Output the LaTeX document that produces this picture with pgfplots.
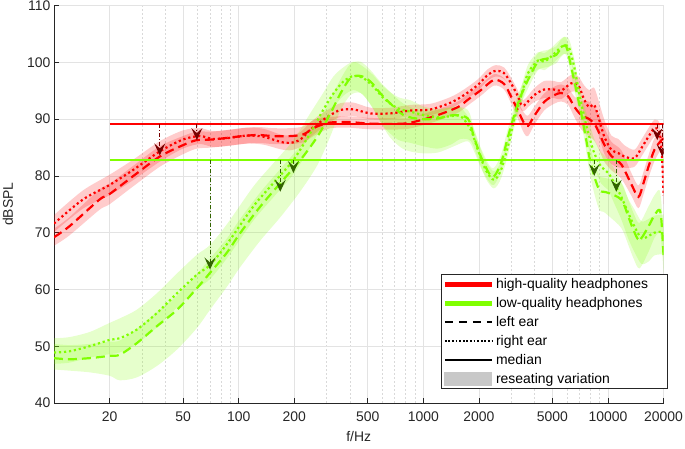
\documentclass[border=0pt]{standalone}
\usepackage{fontspec}
\setmainfont{Liberation Sans}
\usepackage{pgfplots}
\pgfplotsset{compat=1.18}
\usepackage{pgfplotstable}
\usepgfplotslibrary{fillbetween}
\usetikzlibrary{arrows.meta}
\definecolor{hq}{RGB}{255,0,0}
\definecolor{lq}{RGB}{128,255,0}
\definecolor{darkr}{RGB}{120,0,0}
\definecolor{darkg}{RGB}{50,100,0}
\definecolor{axc}{RGB}{38,38,38}
\definecolor{lgray}{RGB}{200,200,200}

\pgfplotstableread{
f y a b
10 69.2 1.5 1.5
12.1 71.1 1.6 1.6
17.6 75.8 1.8 1.8
20 76.8 1.8 1.8
26.7 79.9 1.8 1.8
37.4 83.4 1.8 1.8
49.9 85.4 1.6 1.6
59.4 86.3 1.5 1.5
72.6 86.4 1.4 1.4
98 86.9 1.4 1.4
126 87.2 1.4 1.4
154 87.0 1.4 1.4
190 87.0 1.4 1.4
224 87.3 1.4 1.4
254 88.4 1.4 1.4
287 89.1 1.2 1.2
314 89.4 1.0 1.0
388 89.5 1.0 1.0
518 89.2 1.0 1.0
782 89.2 1.0 1.0
968 89.8 1.0 1.0
1197 90.7 1.0 1.0
1538 92.1 1.0 1.0
1743 93.4 1.0 1.0
2050 95.1 1.0 1.0
2413 96.9 1.0 1.0
2736 96.2 1.0 1.0
2986 94.0 1.2 1.2
3258 91.5 1.5 1.5
3512 89.3 1.8 1.8
3693 88.8 1.8 1.8
3980 90.5 1.6 1.6
4511 93.0 1.5 1.5
5112 94.2 1.5 1.5
5581 94.6 1.5 1.5
6093 94.0 1.5 1.5
6566 92.2 1.8 1.8
7168 90.7 2.5 2.5
7826 90.1 3.0 3.0
8434 89.2 3.0 3.0
8981 87.5 3.0 3.0
9558 85.5 3.0 3.0
10434 83.5 2.5 2.5
11823 82.0 2.5 2.5
13400 78.5 2.0 2.0
14628 76.3 2.0 2.0
15572 78.7 2.0 2.0
16578 81.6 2.0 2.0
17868 84.6 2.0 2.0
19505 86.3 1.5 1.5
20000 86.6 1.5 1.5
}\redL

\pgfplotstableread{
f y a b
10 71.6 1.5 1.5
14.3 75.8 1.6 1.6
20 78.4 1.8 1.8
26.7 81.0 1.8 1.8
37.4 84.3 1.8 1.8
49.9 86.4 1.6 1.6
61.7 87.0 1.4 1.4
72.6 86.5 1.4 1.4
89.8 86.7 1.4 1.4
111 87.1 1.4 1.4
136 86.9 1.4 1.4
168 86.0 1.3 1.3
190 85.8 1.3 1.3
216 86.4 1.3 1.3
244 88.1 1.3 1.3
277 89.5 1.3 1.3
314 90.7 1.2 1.2
356 91.6 1.2 1.2
419 91.7 1.2 1.2
518 91.0 1.0 1.0
665 91.0 1.0 1.0
854 91.5 1.0 1.0
1097 91.7 1.0 1.0
1409 92.9 1.0 1.0
1658 94.2 1.0 1.0
1975 96.0 1.0 1.0
2238 97.8 1.0 1.0
2474 98.5 1.0 1.0
2736 98.1 1.0 1.0
2986 96.3 1.0 1.0
3258 94.0 1.0 1.0
3383 92.6 1.0 1.0
3512 92.4 1.0 1.0
3693 93.1 1.0 1.0
3980 94.2 1.2 1.2
4511 95.2 1.5 1.5
5112 95.2 1.5 1.5
5581 95.0 1.5 1.5
6325 96.3 1.5 1.5
6903 96.0 1.5 1.5
7443 93.4 2.5 2.5
7923 92.1 3.0 3.0
8434 92.5 3.0 3.0
8981 89.8 3.0 3.0
9558 86.9 3.0 3.0
10434 84.6 2.5 2.5
11390 84.0 2.5 2.5
12275 83.4 2.0 2.0
13915 83.1 1.5 1.5
15188 84.9 1.5 1.5
16578 86.9 1.5 1.5
17868 88.4 1.5 1.5
19024 87.8 1.5 1.5
19505 84.5 1.5 1.5
19800 81.0 1.5 1.5
20000 76.5 1.5 1.5
}\redR

\pgfplotstableread{
f y a b
10 47.9 2.0 2.5
12.1 47.7 2.0 2.5
15.6 47.9 2.5 2.5
20 48.3 3.5 2.5
22.7 48.5 4.5 2.5
28 50.5 6.0 2.5
36 53.5 7.0 2.5
46.3 56.4 7.0 2.5
59.4 60.2 7.0 2.5
69.9 62.9 6.5 2.5
86.5 66.5 6.0 2.5
101.8 69.9 6.0 2.5
131 74.6 6.0 2.5
168 78.7 6.0 2.5
216 82.8 5.5 2.5
267 86.9 5.0 2.5
314 91.0 4.0 2.5
356 94.5 3.0 2.5
403 97.2 3.0 2.5
457 97.6 3.0 2.5
518 96.6 4.0 2.0
587 94.5 5.0 2.0
660 92.8 6.0 2.0
782 90.7 6.0 2.0
968 90.0 6.0 1.5
1197 90.1 6.0 1.5
1462 90.7 5.5 1.5
1743 90.1 4.0 1.5
1879 86.9 2.5 1.5
2050 83.4 2.0 1.5
2266 80.5 1.5 1.5
2413 79.9 1.5 1.5
2634 82.2 1.5 1.5
2876 86.9 1.5 1.5
3258 92.8 1.5 1.5
3693 96.9 1.5 1.5
4185 100.1 1.5 1.5
4743 100.7 1.5 1.5
5242 101.3 1.5 1.5
5581 102.5 1.5 1.5
5942 102.8 1.5 1.5
6325 99.2 1.5 1.5
6733 95.1 1.5 1.5
7168 91.0 1.5 1.5
7632 86.3 2.0 2.0
7923 83.4 2.5 2.5
8434 79.9 3.0 2.5
8981 77.5 3.5 2.5
9439 77.2 3.5 2.5
10050 77.0 4.0 2.5
11823 75.8 5.0 3.0
12905 72.8 5.0 3.0
13741 70.5 5.0 3.0
14813 68.7 5.0 3.0
16578 71.1 4.5 3.5
17868 73.1 4.0 3.5
19024 74.0 4.0 3.5
19505 72.0 4.0 3.0
20000 66.0 3.0 3.0
}\greenL

\pgfplotstableread{
f y a b
10 48.9 2.0 2.5
12.1 49.1 2.0 2.5
15.6 50.0 2.0 2.5
20 51.1 2.5 3.0
22.7 51.4 2.5 3.5
28 52.9 2.5 3.5
36 55.8 2.5 3.5
46.3 59.3 2.5 3.5
59.4 62.6 2.5 3.5
69.9 64.3 2.5 3.5
86.5 68.0 2.5 3.5
120 74.6 2.5 3.5
154 78.7 2.5 3.5
198 82.8 2.5 3.5
244 87.5 2.5 3.5
287 91.6 2.5 3.0
326 94.5 2.5 3.0
369 96.6 2.5 2.5
419 97.6 2.5 2.5
474 97.2 3.0 2.0
537 95.7 4.0 2.0
609 93.7 5.0 2.0
726 91.9 5.5 2.0
854 91.3 5.5 2.0
1005 90.7 5.5 1.5
1197 90.3 5.5 1.5
1409 90.5 5.0 1.5
1597 90.5 4.0 1.5
1810 88.1 2.0 1.5
1975 84.6 1.5 1.5
2182 81.0 1.5 1.5
2413 79.3 1.5 1.5
2634 81.0 1.5 1.5
2876 85.2 1.5 1.5
3100 89.8 1.5 1.5
3383 94.0 1.5 1.5
3693 98.1 1.5 1.5
4185 100.3 1.5 1.5
4511 100.1 1.5 1.5
4924 101.0 1.5 1.5
5377 102.2 1.5 1.5
5794 103.0 1.5 1.5
6169 102.5 1.5 1.5
6566 99.2 1.5 1.5
6991 94.5 1.5 1.5
7443 90.4 2.0 2.0
7923 86.9 2.5 2.5
8434 84.0 2.5 2.5
9206 81.6 3.0 2.5
10050 80.5 3.0 2.5
10699 79.0 3.5 2.5
11823 76.3 4.0 2.5
12905 73.4 4.5 2.5
13915 71.1 4.5 3.0
15188 69.0 4.5 3.0
16578 69.4 4.5 3.0
17868 70.0 4.0 3.0
20000 70.2 4.0 3.0
}\greenR

\begin{document}
\begin{tikzpicture}[font=\fontsize{14}{16}\selectfont]
\begin{axis}[
  at={(0,0)}, anchor=south west,
  scale only axis, width=609.5bp, height=397.5bp,
  xmode=log, xmin=10, xmax=20000, ymin=40, ymax=110,
  xtick={20,50,100,200,500,1000,2000,5000,10000,20000},
  xticklabels={20,50,100,200,500,1000,2000,5000,10000,20000},
  minor xtick={30,40,60,70,80,90,300,400,600,700,800,900,3000,4000,6000,7000,8000,9000},
  ytick={40,50,...,110},
  yticklabels={40,50,60,70,80,90,100,110},
  axis x line*=bottom, axis y line*=left,
  axis line style={axc, line width=0.6bp},
  tick style={axc, line width=0.6bp},
  tick align=inside, major tick length=5bp, minor tick length=0bp,
  xmajorgrids, ymajorgrids, xminorgrids,
  major grid style={gray!22, line width=0.5bp},
  minor grid style={gray!30, line width=0.5bp, dash pattern=on 2bp off 2bp},
  ticklabel style={font=\fontsize{14}{16}\selectfont, text=axc},
  xticklabel style={yshift=-5bp},
  xlabel={f/Hz}, ylabel={dBSPL},
  label style={font=\fontsize{14}{16}\selectfont, text=axc},
  xlabel style={at={(axis description cs:0.5,-0.0855)}, anchor=center},
  ylabel style={at={(axis description cs:-0.0755,0.5)}, anchor=center},
  legend cell align=left,
  legend style={at={(axis description cs:1.006,0.035)}, anchor=south east,
    draw=axc, line width=0.6bp, fill=white, font=\fontsize{14}{16}\selectfont,
    inner xsep=1bp, inner ysep=2bp, row sep=3.8bp,
    nodes={inner sep=1.8bp, text=black}},
  legend image code/.code={\draw[#1] (0bp,0bp) -- (47bp,0bp);},
]
% red bands
\addplot[name path=rlA, draw=none, forget plot, smooth] table[x=f, y expr=\thisrow{y}-\thisrow{a}] {\redL};
\addplot[name path=rlB, draw=none, forget plot, smooth] table[x=f, y expr=\thisrow{y}+\thisrow{b}] {\redL};
\addplot[fill=hq, fill opacity=0.2, draw=none, forget plot] fill between[of=rlA and rlB];
\addplot[name path=rrA, draw=none, forget plot, smooth] table[x=f, y expr=\thisrow{y}-\thisrow{a}] {\redR};
\addplot[name path=rrB, draw=none, forget plot, smooth] table[x=f, y expr=\thisrow{y}+\thisrow{b}] {\redR};
\addplot[fill=hq, fill opacity=0.2, draw=none, forget plot] fill between[of=rrA and rrB];
% red lines
\addplot[hq, line width=2.2bp, dash pattern=on 9bp off 5bp, smooth, forget plot] table[x=f, y=y] {\redL};
\addplot[hq, line width=2.2bp, dash pattern=on 2.2bp off 2.8bp, smooth, forget plot] table[x=f, y=y] {\redR};
% green bands
\addplot[name path=glA, draw=none, forget plot, smooth] table[x=f, y expr=\thisrow{y}-\thisrow{a}] {\greenL};
\addplot[name path=glB, draw=none, forget plot, smooth] table[x=f, y expr=\thisrow{y}+\thisrow{b}] {\greenL};
\addplot[fill=lq, fill opacity=0.2, draw=none, forget plot] fill between[of=glA and glB];
\addplot[name path=grA, draw=none, forget plot, smooth] table[x=f, y expr=\thisrow{y}-\thisrow{a}] {\greenR};
\addplot[name path=grB, draw=none, forget plot, smooth] table[x=f, y expr=\thisrow{y}+\thisrow{b}] {\greenR};
\addplot[fill=lq, fill opacity=0.2, draw=none, forget plot] fill between[of=grA and grB];
% green lines
\addplot[lq, line width=2.2bp, dash pattern=on 9bp off 5bp, smooth, forget plot] table[x=f, y=y] {\greenL};
\addplot[lq, line width=2.2bp, dash pattern=on 2.2bp off 2.8bp, smooth, forget plot] table[x=f, y=y] {\greenR};
% medians
\addplot[hq, line width=2.2bp, forget plot] coordinates {(20,89.1) (20000,89.1)};
\addplot[lq, line width=2.2bp, forget plot] coordinates {(20,82.8) (20000,82.8)};
% arrows
\pgfplotsset{arr/.style={line width=1bp, dash pattern=on 4bp off 2bp on 1bp off 2bp, -{Stealth[length=12bp, width=11bp, inset=5bp]}, forget plot}}
\addplot[darkr, arr] coordinates {(37.4,89.1) (37.4,83.6)};
\addplot[darkr, arr] coordinates {(59.4,89.1) (59.4,86.3)};
\addplot[darkr, arr] coordinates {(18500,89.1) (18500,86.3)};
\addplot[darkr, arr] coordinates {(19700,89.1) (19700,83.4)};
\addplot[darkg, arr] coordinates {(70,82.8) (70,63.5)};
\addplot[darkg, arr] coordinates {(168,82.8) (168,77.2)};
\addplot[darkg, arr] coordinates {(198,82.8) (198,80.5)};
\addplot[darkg, arr] coordinates {(8434,82.8) (8434,80.0)};
\addplot[darkg, arr] coordinates {(11100,82.8) (11100,77.2)};
% legend
\addlegendimage{hq, line width=5bp}
\addlegendentry{\makebox[168bp][l]{high-quality headphones}}
\addlegendimage{lq, line width=5bp}
\addlegendentry{low-quality headphones}
\addlegendimage{black, line width=2bp, dash pattern=on 8bp off 6bp}
\addlegendentry{left ear}
\addlegendimage{black, line width=2bp, dash pattern=on 1.8bp off 1.8bp}
\addlegendentry{right ear}
\addlegendimage{black, line width=2bp}
\addlegendentry{median}
\addlegendimage{legend image code/.code={\fill[lgray] (0bp,-6.5bp) rectangle (47bp,6.5bp);}}
\addlegendentry{reseating variation}
\end{axis}
\pgfresetboundingbox
\path[use as bounding box] (-54bp,-46bp) rectangle (631bp,403bp);
\end{tikzpicture}
\end{document}
